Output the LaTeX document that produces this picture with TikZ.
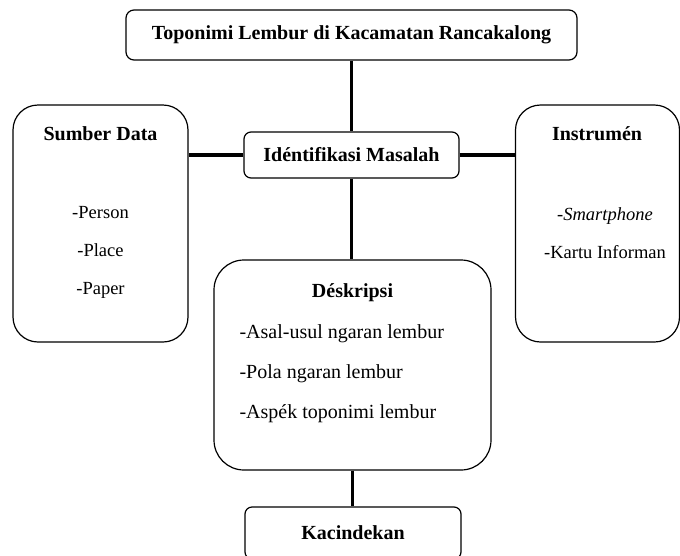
\documentclass[tikz,border=0pt]{standalone}
\usepackage{fontspec}
\setmainfont{Liberation Serif}
\usetikzlibrary{positioning}
\tikzset{
	kotak/.style={draw, line width=1.2pt, rounded corners=#1, inner sep=0pt},
	garis/.style={line width=3.8pt},
	teks/.style={font=\fontsize{20}{38}\selectfont},
	isi/.style={font=\fontsize{18.5}{38}\selectfont, align=center},
}

\begin{document}
\begin{tikzpicture}[x=1pt, y=1pt]
			%%%%% START %%%%%
			\useasboundingbox (0, 0) rectangle (680, -555);
			
			\node[kotak=8pt, minimum width=451pt, minimum height=50pt, teks] (judul) at (351.5, -35) {\textbf{Toponimi Lembur di Kacamatan Rancakalong}};
			\node[kotak=7pt, minimum width=215pt, minimum height=46pt, teks] (ident) at (351.5, -155) {\textbf{Idéntifikasi Masalah}};
			
			\node[kotak=25pt, minimum width=175pt, minimum height=237pt] (sumber) at (100.5, -223.5) {};
			\node[teks] (sumberjudul) at (100.5, -134) {\textbf{Sumber Data}};
			\node[isi] (sumberisi) at (100.5, -252.5) {-Person\\-Place\\-Paper};
			
			\node[kotak=25pt, minimum width=164pt, minimum height=237pt] (instrumen) at (597.5, -223.5) {};
			\node[teks] (instrumenjudul) at (597, -134) {\textbf{Instrumén}};
			\node[isi] (instrumenisi) at (605, -233.5) {-\textit{Smartphone}\\-Kartu Informan};
			
			\node[kotak=30pt, minimum width=277pt, minimum height=210pt] (deskripsi) at (352.5, -365) {};
			\node[teks] (deskripsijudul) at (352.5, -293) {\textbf{Déskripsi}};
			\node[teks, align=left, anchor=west, font=\fontsize{20}{40}\selectfont] (deskripsiisi) at (236, -374) {-Asal-usul ngaran lembur\\-Pola ngaran lembur\\-Aspék toponimi lembur};
			
			\node[kotak=7pt, minimum width=216pt, minimum height=52pt, teks] (kacindekan) at (353, -533) {\textbf{Kacindekan}};
			
			\draw[garis] (judul) -- (ident);
			\draw[garis] (ident.west) -- (ident.west -| sumber.east);
			\draw[garis] (ident.east) -- (ident.east -| instrumen.west);
			\draw[garis] (ident.south) -- (ident.south |- deskripsi.north);
			\draw[garis] (deskripsi.south) -- (deskripsi.south |- kacindekan.north);
			
			%%%%% END %%%%%
\end{tikzpicture}
\end{document}
